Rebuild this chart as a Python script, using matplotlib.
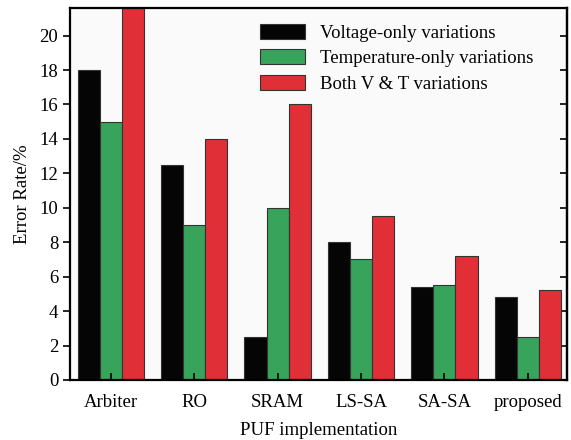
import numpy as np
import matplotlib
matplotlib.use('Agg')
import matplotlib.pyplot as plt

# Error rate (%) of each PUF under the three kinds of variation
implementations = ['Arbiter', 'RO', 'SRAM', 'LS-SA', 'SA-SA', 'proposed']
voltage_only = [18.0, 12.5, 2.5, 8.0, 5.4, 4.8]
temperature_only = [15.0, 9.0, 10.0, 7.0, 5.5, 2.5]
both_v_t = [22.0, 14.0, 16.0, 9.5, 7.2, 5.2]
series_labels = ['Voltage-only variations', 'Temperature-only variations', 'Both V & T variations']
colors = ['#050505', '#38a35a', '#e02f37']

plt.rcParams['font.family'] = 'Liberation Serif'
plt.rcParams['font.size'] = 13.5

fig = plt.figure(figsize=(5.71, 4.40), dpi=100)
ax = fig.add_axes([0.1226, 0.1364, 0.8704, 0.8454])
ax.set_facecolor('#fafafa')

x = np.arange(len(implementations))
width = 0.265
for i, (vals, lab, c) in enumerate(zip([voltage_only, temperature_only, both_v_t], series_labels, colors)):
    ax.bar(x + (i - 1) * width, vals, width, color=c, edgecolor='#333333', linewidth=0.8, label=lab)

ax.set_xlim(-0.49, 5.47)
ax.set_ylim(0, 21.6)
yticks = range(0, 21, 2)
ax.set_yticks(yticks)
ax.set_xticks(x)
ax.set_xticklabels(implementations)
ax.tick_params(axis='y', direction='out', length=5, width=1.2, labelsize=13.5)
ax.tick_params(axis='x', direction='in', length=5, width=1.2, labelsize=13.5, pad=10)

# inward ticks on the right-hand side, no labels
right = ax.secondary_yaxis('right')
right.set_yticks(yticks)
right.tick_params(direction='in', length=5, width=1.2, labelright=False)

for s in ax.spines.values():
    s.set_linewidth(1.6)
right.spines['right'].set_linewidth(1.6)
ax.set_xlabel('PUF implementation', fontsize=13.5, labelpad=8)
ax.set_ylabel('Error Rate/%', fontsize=13.5, labelpad=6)

ax.legend(loc='upper left', bbox_to_anchor=(0.382, 0.958), frameon=False,
          borderpad=0, borderaxespad=0, handlelength=2.4, handleheight=0.85,
          labelspacing=0.4, handletextpad=0.8, fontsize=13.5)

fig.savefig('out.png', dpi=100)
